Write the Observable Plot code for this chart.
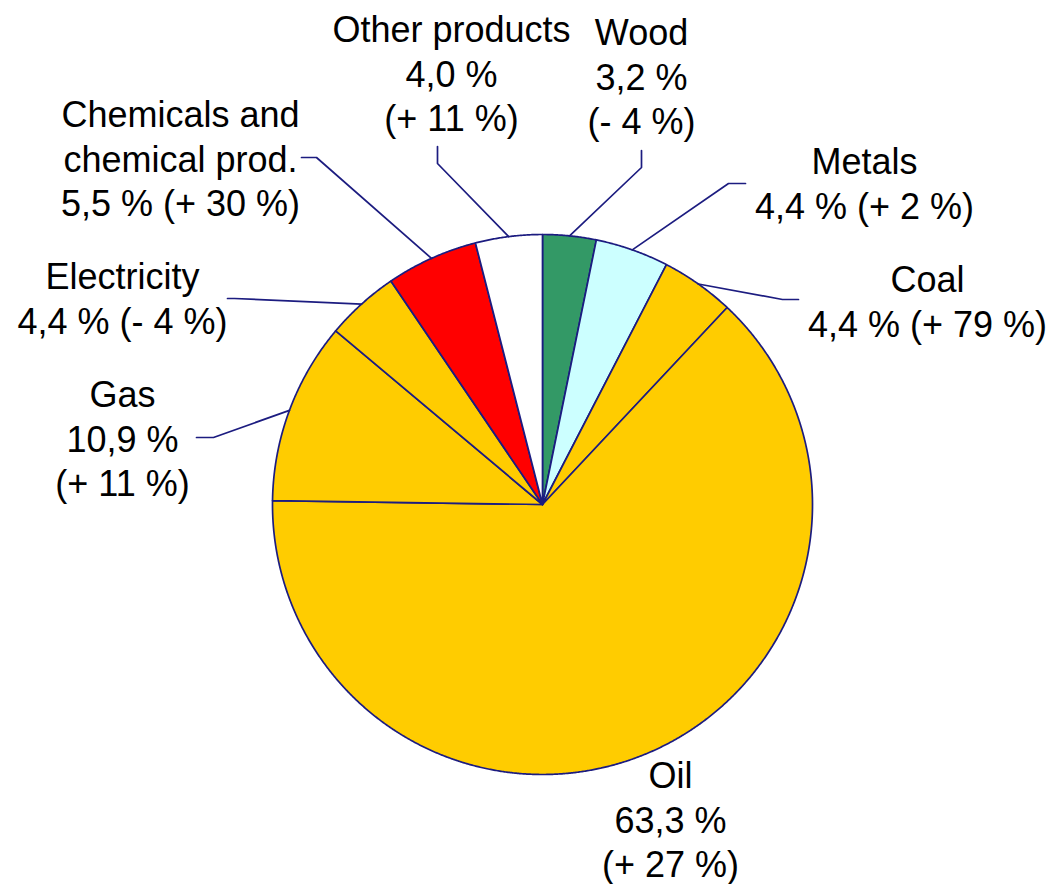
<!DOCTYPE html>
<html>
<head>
<meta charset="utf-8">
<script src="https://cdn.jsdelivr.net/npm/d3@7"></script>
<script src="https://cdn.jsdelivr.net/npm/@observablehq/plot@0.6"></script>
<style>
  html, body { margin: 0; padding: 0; background: #ffffff; }
  #chart svg { display: block; }
</style>
</head>
<body>
<div id="chart"></div>
<script>
// ---- data ----
const categories = ["Wood", "Metals", "Coal", "Oil", "Gas", "Electricity", "Chemicals and chemical prod.", "Other products"];
const shares = [3.2, 4.4, 4.4, 63.3, 10.9, 4.4, 5.5, 4.0];
const changes = ["- 4 %", "+ 2 %", "+ 79 %", "+ 27 %", "+ 11 %", "- 4 %", "+ 30 %", "+ 11 %"];

// ---- styles ----
const sliceColors = ["#339966", "#ccffff", "#ffcc00", "#ffcc00", "#ffcc00", "#ffcc00", "#ff0000", "#ffffff"];
const edge = "#1c1c80";
const R = 270;
const W = 1054, H = 884;
const CX = 542, CY = 504;

// ---- label layout (offsets from pie centre, in px) ----
const labelLayout = {
  "Wood":        {nameLines: ["Wood"], split: true,  pos: [99, -429],  elbow: [99, -337],  end: [99, -354]},
  "Metals":      {nameLines: ["Metals"], split: false, pos: [322, -322], elbow: [186, -321], end: [203, -321]},
  "Coal":        {nameLines: ["Coal"], split: false, pos: [385, -204], elbow: [240, -205], end: [256, -205]},
  "Oil":         {nameLines: ["Oil"], split: true,  pos: [128, 314],  elbow: null, end: null},
  "Gas":         {nameLines: ["Gas"], split: true,  pos: [-420, -67], elbow: [-329, -67], end: [-346, -67]},
  "Electricity": {nameLines: ["Electricity"], split: false, pos: [-420, -207], elbow: [-308, -206], end: [-315, -206]},
  "Chemicals and chemical prod.": {nameLines: ["Chemicals and", "chemical prod."], split: false, pos: [-362, -347], elbow: [-226, -347], end: [-241, -347]},
  "Other products": {nameLines: ["Other products"], split: true, pos: [-91, -432], elbow: [-105, -341], end: [-105, -358]}
};

const fmt = v => d3.format(".1f")(v).replace(".", ",");

const arcs = d3.pie().sort(null).value(d => d)(shares);

// slice polygons
const slicePts = [];
arcs.forEach((a, i) => {
  const name = categories[i];
  slicePts.push({name, x: 0, y: 0});
  const n = Math.max(2, Math.ceil((a.endAngle - a.startAngle) / (Math.PI / 720)));
  for (let k = 0; k <= n; k++) {
    const t = a.startAngle + (a.endAngle - a.startAngle) * k / n;
    slicePts.push({name, x: R * Math.sin(t), y: -R * Math.cos(t)});
  }
  slicePts.push({name, x: 0, y: 0});
});

// leader lines
const leaderPts = [];
arcs.forEach((a, i) => {
  const name = categories[i];
  const L = labelLayout[name];
  if (!L.elbow) return;
  const m = (a.startAngle + a.endAngle) / 2;
  leaderPts.push({name, x: R * Math.sin(m), y: -R * Math.cos(m)});
  leaderPts.push({name, x: L.elbow[0], y: L.elbow[1]});
  leaderPts.push({name, x: L.end[0], y: L.end[1]});
});

// labels
const labels = categories.map((name, i) => {
  const L = labelLayout[name];
  const s = fmt(shares[i]) + " %";
  const c = "(" + changes[i] + ")";
  const lines = L.split ? [...L.nameLines, s, c] : [...L.nameLines, s + " " + c];
  return {name, x: L.pos[0], y: L.pos[1], text: lines.join("\n")};
});

const chart = Plot.plot({
  width: W,
  height: H,
  margin: 0,
  x: {domain: [-CX, W - CX], range: [0, W], axis: null},
  y: {domain: [-CY, H - CY], range: [0, H], axis: null},
  color: {type: "ordinal", domain: categories, range: sliceColors},
  style: {background: "#ffffff", overflow: "visible"},
  marks: [
    Plot.line(slicePts, {x: "x", y: "y", z: "name", fill: "name", stroke: edge, strokeWidth: 1.7, strokeLinejoin: "round", curve: "linear"}),
    Plot.line(leaderPts, {x: "x", y: "y", z: "name", stroke: edge, strokeWidth: 1.7, fill: "none"}),
    Plot.text(labels, {x: "x", y: "y", text: "text", fontSize: 36, lineHeight: 1.24, fill: "#000000", fontFamily: "Liberation Sans, Arial, sans-serif", textAnchor: "middle"})
  ]
});
document.getElementById("chart").appendChild(chart);
</script>
</body>
</html>
